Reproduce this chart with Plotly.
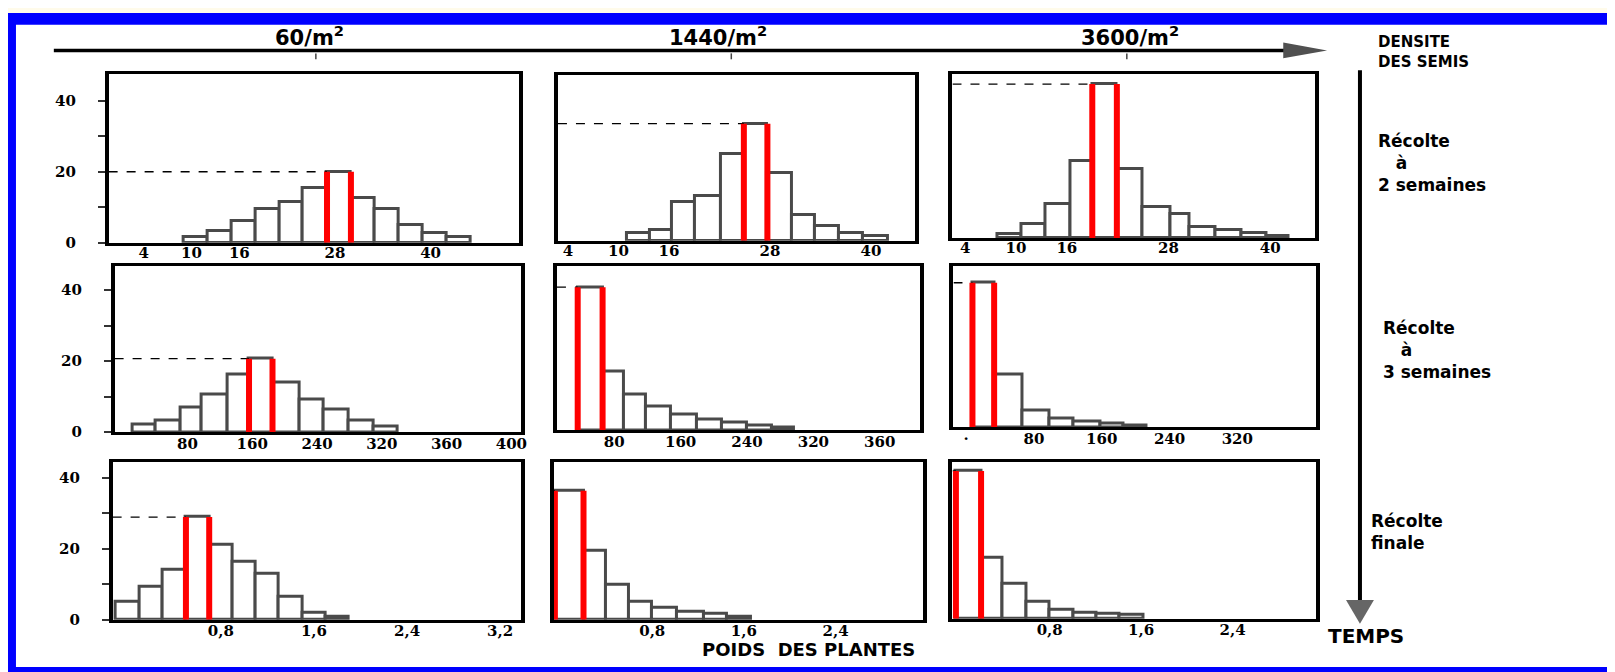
import plotly.graph_objects as go
from plotly.subplots import make_subplots

W, H = 1615, 672

# effectifs (%) par classe de poids, lus sur la figure
# ligne 1 : récolte à 2 semaines
edges_60_2s = [9, 12, 15, 18, 21, 24, 27, 30, 33, 36, 39, 42, 45]
freq_60_2s = [1.5, 3.3, 6.1, 9.4, 11.5, 15.5, 20, 12.7, 9.6, 5, 2.7, 1.6]
edges_1440_2s = [11, 13.7, 16.4, 19.1, 22.2, 24.9, 27.7, 30.6, 33.4, 36.2, 39, 42]
freq_1440_2s = [2.1, 3.1, 10.9, 12.5, 24.4, 33, 19, 7.2, 4.2, 2.1, 1.2]
edges_3600_2s = [7.8, 10.7, 13.5, 16.4, 19.0, 21.9, 24.9, 28.2, 30.5, 33.5, 36.6, 39.6, 42.1]
freq_3600_2s = [1.2, 3.8, 9.5, 21.6, 43.3, 19.4, 8.6, 6.6, 3.1, 2.3, 1.4, 0.6]

# ligne 2 : récolte à 3 semaines
edges_60_3s = [12, 41, 72, 98, 129, 156, 185, 219, 248, 279, 310, 340]
freq_60_3s = [2.3, 3.3, 7, 10.5, 16.3, 20.7, 14, 9.3, 6.3, 3.3, 1.7]
edges_1440_3s = [36, 66, 92, 118, 148, 180, 210, 240, 270, 296]
freq_1440_3s = [40.3, 16.6, 10, 6.8, 4.5, 2.9, 2.1, 1.4, 0.75]
edges_3600_3s = [7.4, 33, 66, 98, 127, 158, 186, 213]
freq_3600_3s = [40.7, 14.9, 4.8, 2.6, 1.6, 1.2, 0.6]

# ligne 3 : récolte finale
edges_60_fin = [-0.1, 0.1, 0.3, 0.5, 0.7, 0.9, 1.1, 1.3, 1.5, 1.7, 1.9]
freq_60_fin = [4.9, 9.3, 13.9, 28.9, 21.1, 16.4, 12.8, 6.5, 1.85, 0.9]
edges_1440_fin = [-0.05, 0.2, 0.4, 0.6, 0.8, 1.02, 1.25, 1.45, 1.66]
freq_1440_fin = [36.3, 19.4, 9.7, 4.9, 3.2, 2.3, 1.6, 0.9]
edges_3600_fin = [-0.02, 0.2, 0.39, 0.6, 0.8, 1.01, 1.21, 1.41, 1.62]
freq_3600_fin = [41.6, 17.1, 9.9, 4.8, 2.5, 1.75, 1.4, 1.2]

# graduations (les étiquettes de l'original ne sont pas régulières)
ticks_2s = [4, 10, 16, 28, 40]
labels_2s = ["4", "10", "16", "28", "40"]
ticks_3s_60 = [80, 160, 240, 320, 400, 480]
labels_3s_60 = ["80", "160", "240", "320", "360", "400"]
ticks_3s_1440 = [80, 160, 240, 320, 400]
labels_3s_1440 = ["80", "160", "240", "320", "360"]
ticks_3s_3600 = [0, 80, 160, 240, 320]
labels_3s_3600 = ["·", "80", "160", "240", "320"]
ticks_fin_60 = [0.8, 1.6, 2.4, 3.2]
labels_fin_60 = ["0,8", "1,6", "2,4", "3,2"]
ticks_fin = [0.8, 1.6, 2.4]
labels_fin = ["0,8", "1,6", "2,4"]

densities = ["60/m<sup>2</sup>", "1440/m<sup>2</sup>", "3600/m<sup>2</sup>"]

panels = [
    (edges_60_2s, freq_60_2s, ticks_2s, labels_2s),
    (edges_1440_2s, freq_1440_2s, ticks_2s, labels_2s),
    (edges_3600_2s, freq_3600_2s, ticks_2s, labels_2s),
    (edges_60_3s, freq_60_3s, ticks_3s_60, labels_3s_60),
    (edges_1440_3s, freq_1440_3s, ticks_3s_1440, labels_3s_1440),
    (edges_3600_3s, freq_3600_3s, ticks_3s_3600, labels_3s_3600),
    (edges_60_fin, freq_60_fin, ticks_fin_60, labels_fin_60),
    (edges_1440_fin, freq_1440_fin, ticks_fin, labels_fin),
    (edges_3600_fin, freq_3600_fin, ticks_fin, labels_fin),
]

# cadres des 9 histogrammes (pixels) et étendue de l'axe x
boxes = [
    (101, 513, 67, 238), (552, 910, 68, 236), (948, 1312, 67, 233),
    (107, 515, 262, 430), (551, 915, 262, 428), (949, 1313, 262, 425),
    (105, 515, 460, 620), (548, 918, 460, 620), (948, 1313, 460, 619),
]
xranges = [
    [-0.4, 51.1], [2.8, 45.2], [2.5, 45.3],
    [-10, 492], [11, 448], [-15, 413],
    [-0.13, 3.38], [-0.058, 3.16], [-0.05, 3.13],
]
xlabel_shift = [-6, -4, -4]


def px(x):
    return x / W


def py(y):
    return 1 - y / H


fig = make_subplots(rows=3, cols=3)

tickfont = dict(family="DejaVu Serif", size=15, color="black", weight="bold")

for i, (edges, freq, tv, tt) in enumerate(panels):
    r, c = i // 3 + 1, i % 3 + 1
    centers = [(a + b) / 2 for a, b in zip(edges[:-1], edges[1:])]
    widths = [b - a for a, b in zip(edges[:-1], edges[1:])]
    fig.add_trace(go.Bar(x=centers, y=freq, width=widths,
                         marker=dict(color="white", line=dict(color="#4a4a4a", width=3))),
                  row=r, col=c)
    k = freq.index(max(freq))
    left, right, top = edges[k], edges[k + 1], freq[k]
    fig.add_trace(go.Scatter(x=[xranges[i][0], left], y=[top, top], mode="lines",
                             line=dict(color="black", width=1.3, dash="dash")),
                  row=r, col=c)
    fig.add_trace(go.Scatter(x=[left, left, None, right, right], y=[0, top, None, 0, top],
                             mode="lines", line=dict(color="#ff0000", width=6)),
                  row=r, col=c)

    x0, x1, y0, y1 = boxes[i]
    fig.update_xaxes(domain=[px(x0), px(x1)], range=xranges[i],
                     tickvals=tv, ticktext=tt, ticks="", tickfont=tickfont,
                     ticklabelstandoff=xlabel_shift[r - 1],
                     showgrid=False, zeroline=False, showline=True, mirror=True,
                     linecolor="black", linewidth=2.5, row=r, col=c)
    yaxis = dict(domain=[py(y1), py(y0)], range=[0, (y1 - y0) / 3.6],
                 showgrid=False, zeroline=False, showline=True, mirror=True,
                 linecolor="black", linewidth=3.5)
    if c == 1:
        yaxis.update(tickvals=[0, 20, 40], ticks="outside", ticklen=7, tickwidth=2,
                     tickcolor="#333", ticklabelstandoff=19, tickfont=tickfont,
                     minor=dict(tickvals=[10, 30], ticks="outside", ticklen=7,
                                tickwidth=2, tickcolor="#333"))
    else:
        yaxis.update(showticklabels=False, ticks="")
    fig.update_yaxes(row=r, col=c, **yaxis)

shapes = [
    # fond blanc à l'intérieur du cadre bleu
    dict(type="rect", xref="paper", yref="paper", x0=px(8), x1=px(1605), y0=py(668), y1=py(17),
         fillcolor="white", line=dict(width=0), layer="below"),
    dict(type="rect", xref="paper", yref="paper", x0=0, x1=1, y0=py(5), y1=1,
         fillcolor="#fffbea", line=dict(width=0), layer="below"),
    # flèche densité
    dict(type="line", xref="paper", yref="paper", x0=px(46), x1=px(1290), y0=py(43), y1=py(43),
         line=dict(color="black", width=3.5)),
    dict(type="path", xref="paper", yref="paper",
         path=f"M {px(1280)},{py(35)} L {px(1324)},{py(43)} L {px(1280)},{py(51)} Z",
         fillcolor="#505050", line=dict(width=0)),
    # flèche temps
    dict(type="line", xref="paper", yref="paper", x0=px(1357), x1=px(1357), y0=py(63), y1=py(606),
         line=dict(color="black", width=4)),
    dict(type="path", xref="paper", yref="paper",
         path=f"M {px(1343)},{py(600)} L {px(1371)},{py(600)} L {px(1357)},{py(624)} Z",
         fillcolor="#666666", line=dict(width=0)),
]
for xt in [309, 726, 1123]:
    shapes.append(dict(type="line", xref="paper", yref="paper", x0=px(xt), x1=px(xt),
                       y0=py(46), y1=py(52), line=dict(color="#444", width=1.5)))

bold = dict(family="DejaVu Sans", color="black", weight="bold")
annotations = []


def note(text, x, y, size, xanchor="left"):
    annotations.append(dict(text=text, x=px(x), y=py(y), xref="paper", yref="paper",
                            xanchor=xanchor, yanchor="middle", align="left",
                            showarrow=False, font=dict(bold, size=size)))


for txt, xc in zip(densities, [303, 713, 1126]):
    note(txt, xc, 28, 21, xanchor="center")

note("DENSITE<br>DES SEMIS", 1373, 45, 15)
note("Récolte<br>\u00a0\u00a0\u00a0à<br>2 semaines", 1373, 157, 17)
note("Récolte<br>\u00a0\u00a0\u00a0à<br>3 semaines", 1378, 347, 17)
note("Récolte<br>finale", 1366, 531, 17)
note("TEMPS", 1363, 637, 20, xanchor="center")
note("POIDS\u00a0 DES PLANTES", 803, 650, 18, xanchor="center")

fig.update_layout(
    width=W, height=H, autosize=False,
    margin=dict(l=0, r=0, t=0, b=0),
    paper_bgcolor="#0000ff", plot_bgcolor="white",
    showlegend=False, bargap=0,
    shapes=shapes, annotations=annotations,
)

fig.write_html("out.html")
